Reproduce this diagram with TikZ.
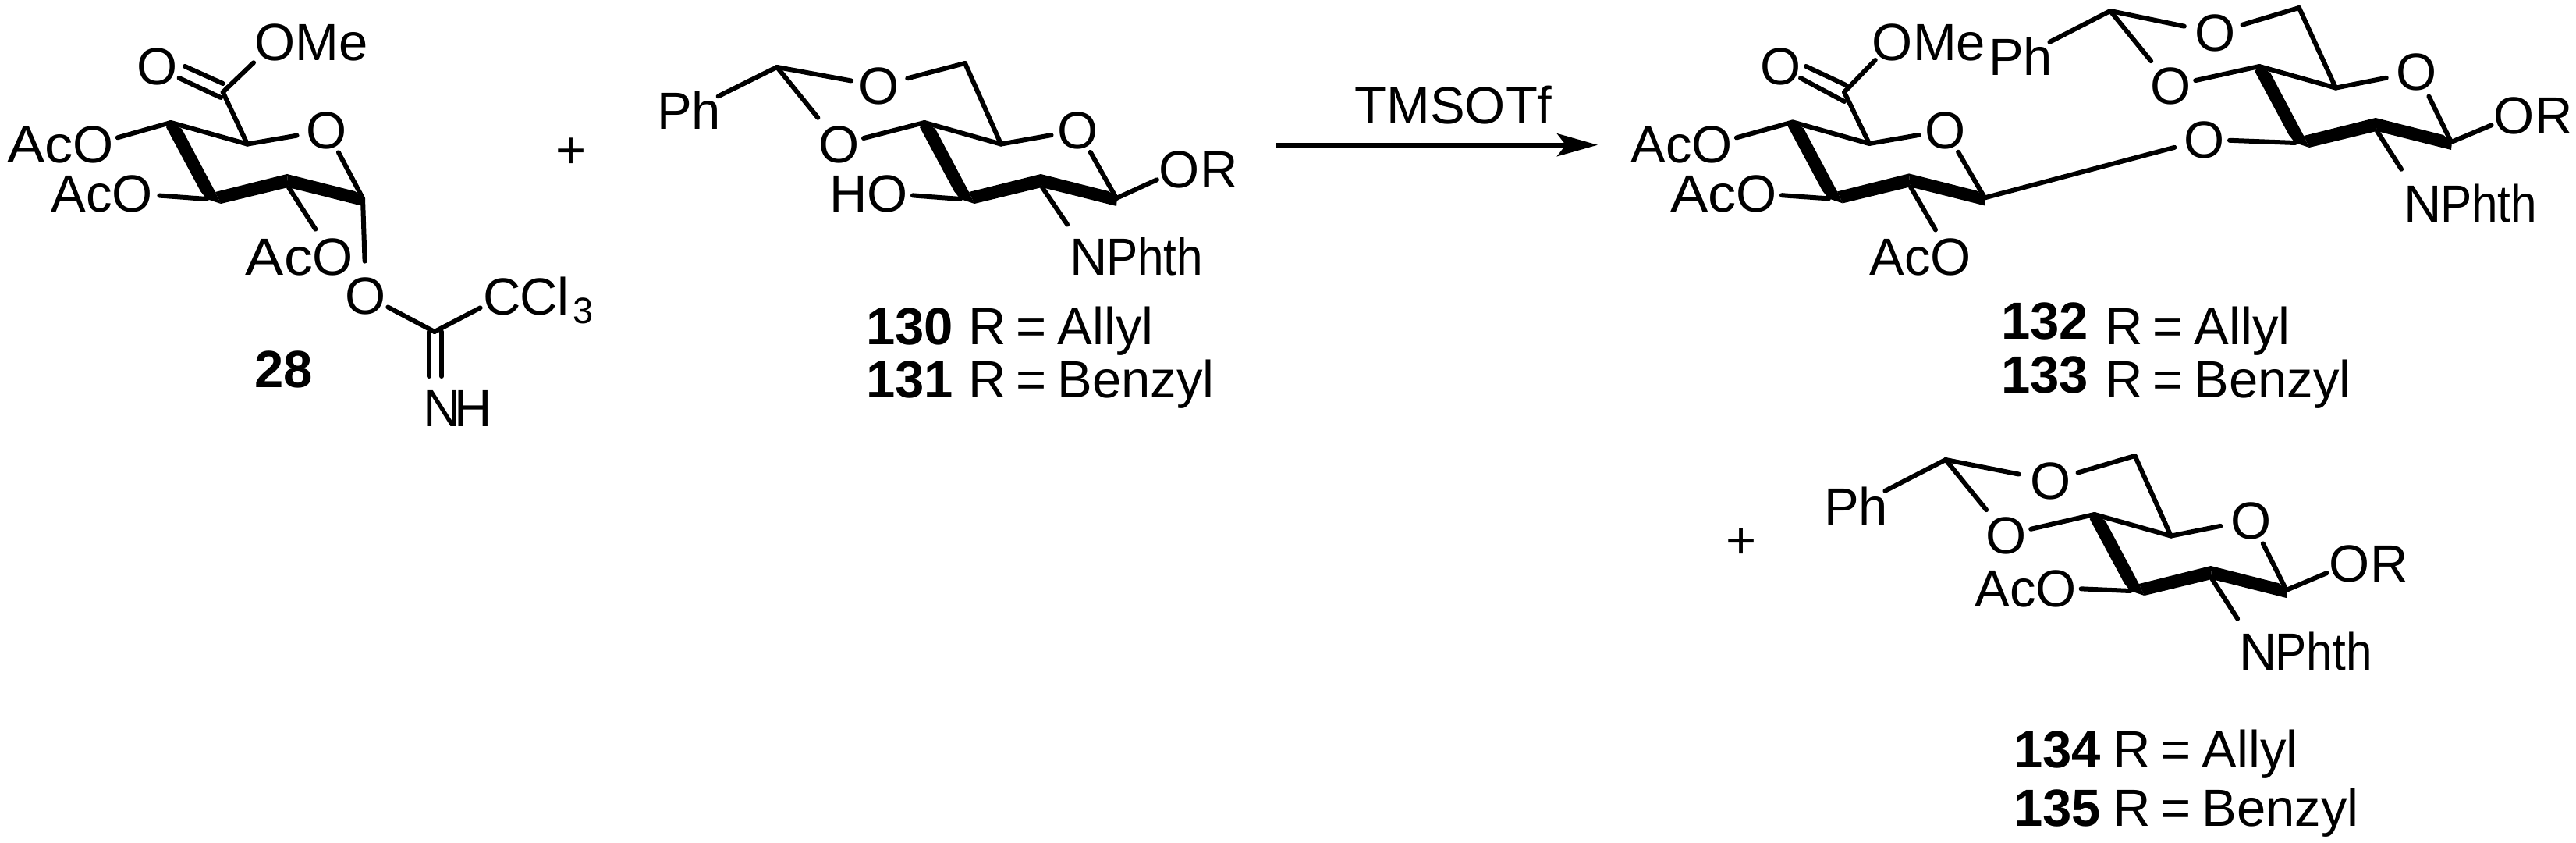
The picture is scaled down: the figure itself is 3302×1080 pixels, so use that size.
\documentclass[tikz,border=0pt]{standalone}
\usepackage{fontspec}
\setmainfont{Liberation Sans}
\usetikzlibrary{calc,arrows.meta}
\newcommand\lab{\fontsize{33.5}{40}\selectfont}
\newcommand\at[1]{\makebox[0pt]{\raisebox{-12pt}[0pt][0pt]{#1}}}
\newcommand\phth{\scalebox{.9}[1]{Phth}}
\tikzset{
  bond/.style={line width=3pt,line cap=round,line join=round},
  atom/.style={circle,inner sep=0pt,outer sep=0pt,minimum size=32pt,font=\lab},
  widea/.style={circle,inner sep=0pt,outer sep=0pt,minimum size=42pt,font=\lab},
  tx/.style={inner sep=0pt,outer sep=0pt,font=\lab},
  eg/.style={shorten >=#1},
  sg/.style={shorten <=#1}
}
% prefix, x, y : the chair with its bold front edge
\newcommand\ringat[3]{%
  \begin{scope}[shift={(#2,#3)}]
    \coordinate (#1c4) at (0,0);
    \coordinate (#1c5) at (98,27.6);
    \coordinate (#1c3) at (46,98);
    \coordinate (#1c2) at (151,83);
    \coordinate (#1c1) at (246,97);
    \fill (0,0)--(14,8)--(57,89)--(64,104)--(46,98)--(38,88)--(-6,6)--cycle;
    \fill (57,89)--(149,66)--(150.5,83)--(64,104)--cycle;
    \fill (149,66)--(236,88)--(247,97)--(246,107)--(150.5,83)--cycle;
    \draw[bond] (#1c4)--(#1c5);
  \end{scope}}
\begin{document}
\begin{tikzpicture}[x=0.5pt,y=-0.5pt]
\useasboundingbox (0,0) rectangle (3302,1080);

% ---------- 28
\ringat{a}{219}{157}
\node[atom] (aOd) at (201.5,84.6) {\at{O}};
\node[atom] (aOm) at (352.5,54) {\at{O}};
\node[tx,anchor=base west] (aMe) at ($(aOm)+(26,24)$) {Me};
\coordinate (aC6) at (285.7,118);
\coordinate (ad1) at (285.7,107); \coordinate (ad1e) at (237,85);
\coordinate (ad2) at (283,125); \coordinate (ad2e) at (229.6,100);
\draw[bond] (ad1)--(ad1e);
\draw[bond] (ad2)--(ad2e);
\draw[bond,eg=3pt] (aC6)--(aOm);
\draw[bond] (aC6)--(ac5);
\node[atom] (aO5) at (419,167) {\at{O}};
\draw[bond,eg=3.5pt] (ac5)--(aO5);
\draw[bond] (aO5)--(ac1);
\node[atom] (aO4) at (120,185) {\at{O}};
\node[tx,anchor=base east] (aAc4) at ($(aO4)+(-26,24)$) {\scalebox{1.08}[1]{Ac}};
\draw[bond] (ac4)--(aO4);
\node[atom] (aO3) at (169.5,248) {\at{O}};
\node[tx,anchor=base east] (aAc3) at ($(aO3)+(-26,24)$) {Ac};
\draw[bond,eg=1.5pt] (ac3)--(aO3);
\node[atom] (aO2) at (427,329) {\at{O}};
\node[tx,anchor=base east] (aAc2) at ($(aO2)+(-26,24)$) {\scalebox{1.1}[1]{Ac}};
\draw[bond,eg=5pt] (ac2)--(aO2);
\node[atom] (aO1) at (469,378.6) {\at{O}};
\draw[bond,eg=6pt] (ac1)--(aO1);
\coordinate (aCi) at (557,425);
\draw[bond] (aO1)--(aCi);
\node[atom] (aCc) at (644,379.6) {\at{C}};
\node[tx,anchor=base west] (aCl) at ($(aCc)+(24,24)$) {\kern-1pt Cl\kern2.5pt\raisebox{-5.5pt}{\fontsize{23.5}{28}\selectfont 3}};
\draw[bond] (aCi)--(aCc);
\node[atom] (aN) at (567,522) {\at{N}};
\node[tx,anchor=base west] (aH) at ($(aN)+(15,24)$) {H};
\coordinate (an1) at (550,425); \coordinate (an1e) at (550,482);
\coordinate (an2) at (566,425); \coordinate (an2e) at (566,482);
\draw[bond] (an1)--(an1e);
\draw[bond] (an2)--(an2e);
\node[tx,anchor=base west] (n28) at (326.5,496) {\textbf{28}};
\node[tx,anchor=base] (plusa) at (732,216) {+};

% ---------- 130 / 131
\ringat{b}{1185}{157}
\coordinate (bAc) at (996,86);
\coordinate (bCH) at (1237,81);
\node[widea] (bPh) at (883,142) {\at{Ph}};
\node[atom] (bOt) at (1126.5,110) {\at{O}};
\node[atom] (bOl) at (1076,185) {\at{O}};
\node[atom] (bO5) at (1382,167) {\at{O}};
\node[atom] (bOr) at (1512,217) {\at{O}};
\node[tx,anchor=base west] (bR) at ($(bOr)+(26,24)$) {R};
\node[atom] (bO3) at (1138,248) {\at{O}};
\node[tx,anchor=base east] (bH) at ($(bO3)+(-26,24)$) {H};
\node[atom] (bN) at (1396,329) {\at{N}};
\node[tx,anchor=base west] (bPhth) at ($(bN)+(22,24)$) {\phth};
\draw[bond] (bAc)--(bPh);
\draw[bond,eg=2pt] (bAc)--(bOt);
\draw[bond,eg=6pt] (bAc)--(bOl);
\draw[bond,sg=3pt] (bOt)--(bCH);
\draw[bond] (bCH)--(bc5);
\draw[bond] (bc4)--(bOl);
\draw[bond,eg=1.5pt] (bc5)--(bO5);
\draw[bond] (bO5)--(bc1);
\draw[bond] (bc1)--(bOr);
\draw[bond] (bc3)--(bO3);
\draw[bond,eg=9pt] (bc2)--(bN);
\node[tx,anchor=base west] (n130) at (1110,441) {\textbf{130}};
\node[tx,anchor=base west] (r130) at (1241,441) {R\kern6.8pt=\kern6.8pt Allyl};
\node[tx,anchor=base west] (n131) at (1110,509) {\textbf{131}};
\node[tx,anchor=base west] (r131) at (1241,509) {R\kern6.8pt=\kern6.8pt Benzyl};

% ---------- arrow
\coordinate (arrS) at (1636,185.7);
\coordinate (arrE) at (2048,185.7);
\draw[line width=3pt,-{Stealth[length=26pt,width=14.5pt,inset=5.5pt]}] (arrS)--(arrE);
\node[tx,anchor=base] (tms) at (1863,159) {TMSOTf};

% ---------- 132 / 133 left ring
\ringat{c}{2298}{156.4}
\node[atom] (cOd) at (2282.6,84.6) {\at{O}};
\node[atom] (cOm) at (2426,54) {\at{O}};
\node[tx,anchor=base west] (cMe) at ($(cOm)+(26,24)$) {Me};
\coordinate (cC6) at (2364,118);
\coordinate (cd1) at (2366,109); \coordinate (cd1e) at (2315,85);
\coordinate (cd2) at (2364,130); \coordinate (cd2e) at (2308,100);
\draw[bond] (cd1)--(cd1e);
\draw[bond] (cd2)--(cd2e);
\draw[bond] (cC6)--(cOm);
\draw[bond] (cC6)--(cc5);
\node[atom] (cO5) at (2494,167) {\at{O}};
\draw[bond,eg=1.5pt] (cc5)--(cO5);
\draw[bond] (cO5)--(cc1);
\node[atom] (cO4) at (2195,185) {\at{O}};
\node[tx,anchor=base east] (cAc4) at ($(cO4)+(-26,24)$) {Ac};
\draw[bond] (cc4)--(cO4);
\node[atom] (cO3) at (2252,248) {\at{O}};
\node[tx,anchor=base east] (cAc3) at ($(cO3)+(-26,24)$) {\scalebox{1.08}[1]{Ac}};
\draw[bond] (cc3)--(cO3);
\node[atom] (cO2) at (2501,329) {\at{O}};
\node[tx,anchor=base east] (cAc2) at ($(cO2)+(-26,24)$) {Ac};
\draw[bond,eg=4pt] (cc2)--(cO2);

% right ring
\ringat{d}{2896}{85}
\coordinate (dAc) at (2705,14);
\coordinate (dCH) at (2947,10);
\node[widea] (dPh) at (2590,73) {\at{Ph}};
\node[atom] (dOt) at (2840,42) {\at{O}};
\node[atom] (dOl) at (2783,110) {\at{O}};
\node[atom] (dOg) at (2826,178.6) {\at{O}};
\node[atom] (dO5) at (3098,92) {\at{O}};
\node[atom] (dOr) at (3223,148) {\at{O}};
\node[tx,anchor=base west] (dR) at ($(dOr)+(26,24)$) {R};
\node[atom] (dN) at (3106,260.6) {\at{N}};
\node[tx,anchor=base west] (dPhth) at ($(dN)+(22,24)$) {\phth};
\draw[bond] (dAc)--(dPh);
\draw[bond,eg=4.5pt] (dAc)--(dOt);
\draw[bond,eg=4.5pt] (dAc)--(dOl);
\draw[bond,sg=2pt] (dOt)--(dCH);
\draw[bond] (dCH)--(dc5);
\draw[bond] (dc4)--(dOl);
\draw[bond,eg=4pt] (dc5)--(dO5);
\draw[bond,sg=1.5pt] (dO5)--(dc1);
\draw[bond] (dc1)--(dOr);
\draw[bond,eg=4pt] (cc1)--(dOg);
\draw[bond] (dOg)--(dc3);
\draw[bond,eg=10pt] (dc2)--(dN);
\node[tx,anchor=base west] (n132) at (2565,435) {\textbf{132}};
\node[tx,anchor=base west] (r132) at (2698,441) {R\kern6.8pt=\kern6.8pt Allyl};
\node[tx,anchor=base west] (n133) at (2565,503.6) {\textbf{133}};
\node[tx,anchor=base west] (r133) at (2698,509) {R\kern6.8pt=\kern6.8pt Benzyl};

% ---------- 134 / 135
\node[tx,anchor=base] (plusb) at (2232,715) {+};
\ringat{e}{2684.7}{659}
\coordinate (eAc) at (2494,589);
\coordinate (eCH) at (2736.6,584);
\node[widea] (ePh) at (2379,648) {\at{Ph}};
\node[atom] (eOt) at (2629,615.7) {\at{O}};
\node[atom] (eOl) at (2572,685) {\at{O}};
\node[atom] (eO5) at (2885.5,666) {\at{O}};
\node[atom] (eOr) at (3012,721.7) {\at{O}};
\node[tx,anchor=base west] (eR) at ($(eOr)+(26,24)$) {R};
\node[atom] (eO3) at (2635.6,753) {\at{O}};
\node[tx,anchor=base east] (eAc3) at ($(eO3)+(-26,24)$) {Ac};
\node[atom] (eN) at (2894.5,834) {\at{N}};
\node[tx,anchor=base west] (ePhth) at ($(eN)+(22,24)$) {\phth};
\draw[bond] (eAc)--(ePh);
\draw[bond,eg=5pt] (eAc)--(eOt);
\draw[bond,eg=4.5pt] (eAc)--(eOl);
\draw[bond,sg=2pt] (eOt)--(eCH);
\draw[bond] (eCH)--(ec5);
\draw[bond] (ec4)--(eOl);
\draw[bond,eg=4pt] (ec5)--(eO5);
\draw[bond,sg=1pt] (eO5)--(ec1);
\draw[bond] (ec1)--(eOr);
\draw[bond] (ec3)--(eO3);
\draw[bond,eg=8.5pt] (ec2)--(eN);
\node[tx,anchor=base west] (n134) at (2581,983) {\textbf{134}};
\node[tx,anchor=base west] (r134) at (2708,983) {R\kern6.8pt=\kern6.8pt Allyl};
\node[tx,anchor=base west] (n135) at (2581,1058) {\textbf{135}};
\node[tx,anchor=base west] (r135) at (2708,1058) {R\kern6.8pt=\kern6.8pt Benzyl};
\end{tikzpicture}
\end{document}
